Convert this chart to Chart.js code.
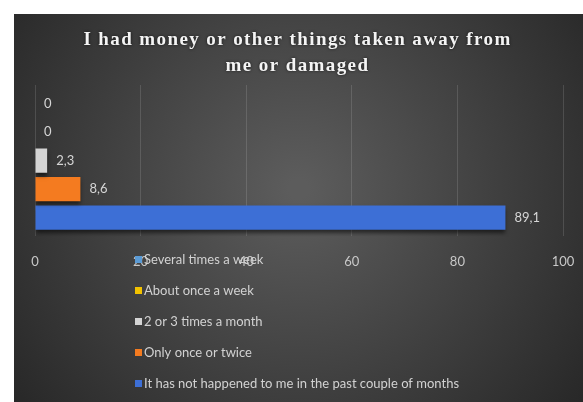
<!DOCTYPE html>
<html>
<head>
<meta charset="utf-8">
<script src="https://cdn.jsdelivr.net/npm/chart.js@4/dist/chart.umd.min.js"></script>
<style>
  html, body { margin: 0; padding: 0; background: #ffffff; }
  #wrap { position: absolute; left: 14px; top: 14px; width: 569px; height: 388px; }
</style>
</head>
<body>
<div id="wrap"><canvas id="c" width="569" height="388"></canvas></div>
<script>
// Survey answers: how often money or things were taken away or damaged (%)
const titleLines = ['I had money or other things taken away from', 'me or damaged'];
const categories = [''];
const seriesLabels = [
  'Several times a week',
  'About once a week',
  '2 or 3 times a month',
  'Only once or twice',
  'It has not happened to me in the past couple of months'
];
const seriesValues = [0, 0, 2.3, 8.6, 89.1];
const seriesColors = ['#5b9bd5', '#f2c200', '#d4d4d4', '#f47b20', '#3d6fd6'];
const xTicks = [0, 20, 40, 60, 80, 100];

const fmt = v => String(v).replace('.', ',');

// Dark radial background behind everything
const backdrop = {
  id: 'backdrop',
  beforeDraw(chart) {
    const { ctx, width, height } = chart;
    const g = ctx.createRadialGradient(width * 0.5, height * 0.45, 10, width * 0.5, height * 0.45, 380);
    g.addColorStop(0, '#5c5c5c');
    g.addColorStop(1, '#242424');
    ctx.save();
    ctx.fillStyle = g;
    ctx.fillRect(0, 0, width, height);
    ctx.restore();
  }
};

// Soft shadow under the bars
const barShadow = {
  id: 'barShadow',
  beforeDatasetsDraw(chart) {
    const ctx = chart.ctx;
    ctx.save();
    ctx.shadowColor = 'rgba(0,0,0,0.55)';
    ctx.shadowBlur = 4;
    ctx.shadowOffsetY = 3;
  },
  afterDatasetsDraw(chart) {
    chart.ctx.restore();
  }
};

// Value labels at the end of each bar
const valueLabels = {
  id: 'valueLabels',
  afterDatasetsDraw(chart) {
    const ctx = chart.ctx;
    ctx.save();
    ctx.font = '13px Lato, "Liberation Sans", sans-serif';
    ctx.fillStyle = '#d6d6d6';
    ctx.textAlign = 'left';
    ctx.textBaseline = 'middle';
    chart.data.datasets.forEach((ds, i) => {
      const meta = chart.getDatasetMeta(i);
      meta.data.forEach((bar, j) => {
        ctx.fillText(fmt(ds.data[j]), bar.x + 9, bar.y);
      });
    });
    ctx.restore();
  }
};

// Title in spaced bold serif
const titleText = {
  id: 'titleText',
  afterDraw(chart) {
    const ctx = chart.ctx;
    ctx.save();
    ctx.font = 'bold 19px "Liberation Serif", "DejaVu Serif", serif';
    ctx.letterSpacing = '1.4px';
    ctx.fillStyle = '#f4f4f4';
    ctx.textAlign = 'center';
    ctx.textBaseline = 'middle';
    ctx.shadowColor = 'rgba(0,0,0,0.7)';
    ctx.shadowBlur = 3;
    titleLines.forEach((t, i) => ctx.fillText(t, chart.width / 2 - 1, 26 + i * 26));
    ctx.restore();
  }
};

// Vertical legend list below the axis
const listLegend = {
  id: 'listLegend',
  afterDraw(chart) {
    const ctx = chart.ctx;
    ctx.save();
    ctx.font = '13px Lato, "Liberation Sans", sans-serif';
    ctx.textAlign = 'left';
    ctx.textBaseline = 'middle';
    chart.data.datasets.forEach((ds, i) => {
      const y = 246 + i * 31;
      ctx.fillStyle = ds.backgroundColor;
      ctx.fillRect(121, y - 4, 7, 7);
      ctx.fillStyle = '#d2d2d2';
      ctx.fillText(ds.label, 130, y);
    });
    ctx.restore();
  }
};

new Chart(document.getElementById('c'), {
  type: 'bar',
  data: {
    labels: categories,
    datasets: seriesLabels.map((label, i) => ({
      label,
      data: [seriesValues[i]],
      backgroundColor: seriesColors[i],
      borderWidth: 0,
      barPercentage: 0.85,
      categoryPercentage: 0.94
    }))
  },
  options: {
    indexAxis: 'y',
    responsive: false,
    animation: false,
    events: [],
    layout: { padding: { top: 71, left: 21, right: 20, bottom: 114 } },
    plugins: {
      legend: { display: false },
      title: { display: false },
      tooltip: { enabled: false }
    },
    scales: {
      x: {
        min: 0,
        max: 100,
        afterBuildTicks(scale) { scale.ticks = xTicks.map(v => ({ value: v })); },
        afterFit(scale) { scale.paddingLeft = 0; scale.paddingRight = 0; },
        grid: { color: 'rgba(255,255,255,0.13)', lineWidth: 1, drawTicks: false },
        border: { display: false },
        ticks: {
          color: '#c8c8c8',
          font: { family: 'Lato, "Liberation Sans", sans-serif', size: 13 },
          padding: 18,
          maxRotation: 0
        }
      },
      y: {
        display: false,
        grid: { display: false }
      }
    }
  },
  plugins: [backdrop, barShadow, valueLabels, titleText, listLegend]
});
</script>
</body>
</html>
